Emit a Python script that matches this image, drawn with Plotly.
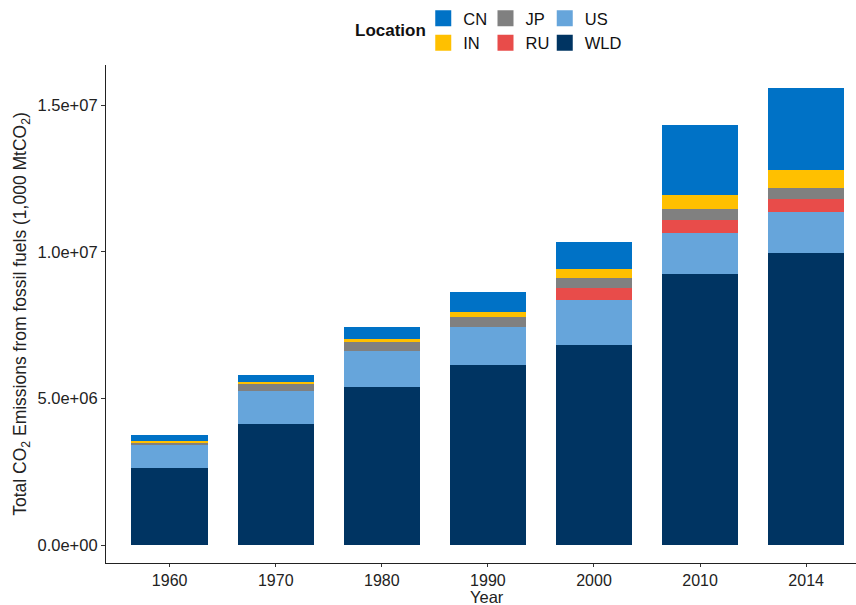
import plotly.graph_objects as go

years = ["1960", "1970", "1980", "1990", "2000", "2010", "2014"]
locations = ["WLD", "US", "RU", "JP", "IN", "CN"]  # bottom to top
values = {
    "WLD": [2.63e6, 4.13e6, 5.39e6, 6.15e6, 6.82e6, 9.23e6, 9.96e6],
    "US":  [0.78e6, 1.12e6, 1.23e6, 1.27e6, 1.53e6, 1.42e6, 1.38e6],
    "RU":  [0.0, 0.0, 0.0, 0.0, 0.42e6, 0.45e6, 0.47e6],
    "JP":  [0.09e6, 0.27e6, 0.31e6, 0.34e6, 0.34e6, 0.37e6, 0.36e6],
    "IN":  [0.04e6, 0.05e6, 0.08e6, 0.18e6, 0.29e6, 0.46e6, 0.63e6],
    "CN":  [0.20e6, 0.23e6, 0.41e6, 0.68e6, 0.94e6, 2.41e6, 2.80e6],
}
colors = {
    "CN": "#0072C6", "IN": "#FFC000", "JP": "#808080",
    "RU": "#E84C4A", "US": "#66A5DB", "WLD": "#003462",
}
ytick_vals = [0, 5e6, 1e7, 1.5e7]
ytick_text = ["0.0e+00", "5.0e+06", "1.0e+07", "1.5e+07"]

xpos = list(range(len(years)))
fig = go.Figure()
for loc in locations:
    fig.add_trace(go.Bar(x=xpos, y=values[loc], name=loc, marker_color=colors[loc],
                         marker_line_width=0, width=0.72, showlegend=False))

legend_groups = [["CN", "IN"], ["JP", "RU"], ["US", "WLD"]]
legend_names = ["legend", "legend2", "legend3"]
for lg, names in zip(legend_names, legend_groups):
    for loc in names:
        fig.add_trace(go.Scatter(x=[None], y=[None], mode="markers", name=loc,
                                 marker=dict(symbol="square", size=16, color=colors[loc]),
                                 legend=lg, showlegend=True))

font_family = "Liberation Sans, Arial, sans-serif"
plot_h = 605 - 65 - 42
leg_common = dict(orientation="v", xanchor="left", yanchor="top", y=1 + 64 / plot_h,
                  bgcolor="rgba(0,0,0,0)", borderwidth=0, itemsizing="trace",
                  traceorder="normal",
                  font=dict(size=16.5, color="#111", family=font_family),
                  tracegroupgap=0)
fig.update_layout(
    legend=dict(x=0.423, **leg_common),
    legend2=dict(x=0.506, **leg_common),
    legend3=dict(x=0.585, **leg_common),
)

fig.add_annotation(text="<b>Location</b>", xref="paper", yref="paper",
                   x=(390 - 106) / 750, y=1 + (65 - 30) / plot_h, showarrow=False,
                   font=dict(size=17, color="#111", family=font_family),
                   xanchor="center", yanchor="middle")

# x-axis title placed below the tick labels
fig.add_annotation(text="Year", xref="paper", yref="paper",
                   x=(487 - 106) / 750, y=-(605 - 563) / plot_h, showarrow=False,
                   font=dict(size=16.5, color="#222", family=font_family),
                   xanchor="center", yanchor="bottom", yshift=-3)

fig.update_layout(
    width=856, height=605,
    margin=dict(l=106, r=0, t=65, b=42),
    plot_bgcolor="white", paper_bgcolor="white",
    barmode="stack", bargap=0,
    font=dict(family=font_family, size=16.5, color="#222"),
    xaxis=dict(range=[-0.6, 6.47], tickvals=xpos, ticktext=years,
               showline=True, linecolor="#222", linewidth=1.2,
               ticks="outside", ticklen=3, tickcolor="#333",
               showgrid=False, zeroline=False,
               tickfont=dict(size=16, color="#222")),
    yaxis=dict(range=[-0.614e6, 16.37e6], tickvals=ytick_vals, ticktext=ytick_text,
               showline=True, linecolor="#222", linewidth=1.2,
               ticks="outside", ticklen=4, tickcolor="#333",
               showgrid=False, zeroline=False,
               tickfont=dict(size=16.5, color="#222"),
               title=dict(text="Total CO<sub>2</sub> Emissions from fossil fuels (1,000 MtCO<sub>2</sub>)",
                          font=dict(size=17.5, color="#222"), standoff=6)),
)

fig.write_html("out.html")
